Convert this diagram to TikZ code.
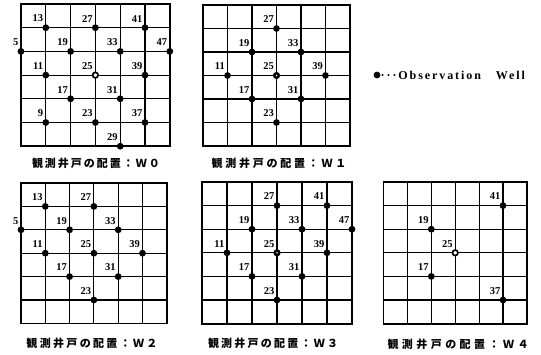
\documentclass[tikz,border=0pt]{standalone}
\usepackage{fontspec}
\setmainfont{Liberation Serif}
\newfontfamily\jpfont{Noto Sans CJK JP}
\newfontfamily\lgdfont[LetterSpace=16]{Liberation Serif}
\tikzset{
  gridline/.style={line width=1.1pt},
  border/.style={line width=1.8pt},
  well/.style={circle, fill=black, inner sep=0pt, minimum size=6.8pt},
  ringwell/.style={circle, draw=black, line width=1.7pt, fill=white, inner sep=0pt, minimum size=5.5pt},
  halfwell/.style={circle, draw=black, line width=2.5pt, fill=white, inner sep=0pt, minimum size=4.5pt},
  lbl/.style={font=\bfseries\fontsize{10.5}{11}\selectfont, inner sep=0pt, anchor=south east, xshift=-2.5pt, yshift=5.5pt},
  ttl/.style={font=\jpfont\bfseries\fontsize{11}{13}\selectfont, inner sep=0pt},
  lgd/.style={font=\lgdfont\bfseries\fontsize{12}{14}\selectfont, inner sep=0pt, anchor=west},
}
\newcommand\mygrid{%
  \foreach \i in {1,...,5} {\draw[gridline] (\i,0) -- (\i,6); \draw[gridline] (0,\i) -- (6,\i);}
  \draw[border] (0,0) rectangle (6,6);}
% well: panel, col, row, number, style
\newcommand\mywell[5]{%
  \node[#5] (#1-#4) at (#2,#3) {};
  \node[lbl] (#1-#4l) at (#2,#3) {#4};}
\newcommand\mytitle[5]{% name, x, y, width, digit
  \node[ttl] (#1) at (#2,#3) {\makebox[#4pt][s]{観\hfill 測\hfill 井\hfill 戸\hfill の\hfill 配\hfill 置\hfill ：\hfill Ｗ\hfill #5}};}
\begin{document}
\begin{tikzpicture}[x=1pt, y=-1pt]
\useasboundingbox (0,0) rectangle (541,354);
\fill[white] (0,0) rectangle (541,354);

% W0
\begin{scope}[shift={(21,4)}, x=24.8pt, y=-23.7pt]
  \mygrid
  \mywell{w0}{1}{1}{13}{well}
  \mywell{w0}{3}{1}{27}{well}
  \mywell{w0}{5}{1}{41}{well}
  \mywell{w0}{0}{2}{5}{well}
  \mywell{w0}{2}{2}{19}{well}
  \mywell{w0}{4}{2}{33}{well}
  \mywell{w0}{6}{2}{47}{well}
  \mywell{w0}{1}{3}{11}{well}
  \mywell{w0}{3}{3}{25}{ringwell}
  \mywell{w0}{5}{3}{39}{well}
  \mywell{w0}{2}{4}{17}{well}
  \mywell{w0}{4}{4}{31}{well}
  \mywell{w0}{1}{5}{9}{well}
  \mywell{w0}{3}{5}{23}{well}
  \mywell{w0}{5}{5}{37}{well}
  \mywell{w0}{4}{6}{29}{well}
\end{scope}

% W1
\begin{scope}[shift={(203,5)}, x=24.5pt, y=-23.5pt]
  \mygrid
  \mywell{w1}{3}{1}{27}{well}
  \mywell{w1}{2}{2}{19}{well}
  \mywell{w1}{4}{2}{33}{well}
  \mywell{w1}{1}{3}{11}{well}
  \mywell{w1}{3}{3}{25}{halfwell}
  \mywell{w1}{5}{3}{39}{well}
  \mywell{w1}{2}{4}{17}{well}
  \mywell{w1}{4}{4}{31}{well}
  \mywell{w1}{3}{5}{23}{well}
\end{scope}

% W2
\begin{scope}[shift={(21,183)}, x=24.3pt, y=-23.4pt]
  \mygrid
  \mywell{w2}{1}{1}{13}{well}
  \mywell{w2}{3}{1}{27}{well}
  \mywell{w2}{0}{2}{5}{well}
  \mywell{w2}{2}{2}{19}{well}
  \mywell{w2}{4}{2}{33}{well}
  \mywell{w2}{1}{3}{11}{well}
  \mywell{w2}{3}{3}{25}{well}
  \mywell{w2}{5}{3}{39}{well}
  \mywell{w2}{2}{4}{17}{well}
  \mywell{w2}{4}{4}{31}{well}
  \mywell{w2}{3}{5}{23}{well}
\end{scope}

% W3
\begin{scope}[shift={(202,182)}, x=25pt, y=-23.6pt]
  \mygrid
  \mywell{w3}{3}{1}{27}{well}
  \mywell{w3}{5}{1}{41}{well}
  \mywell{w3}{2}{2}{19}{well}
  \mywell{w3}{4}{2}{33}{well}
  \mywell{w3}{6}{2}{47}{well}
  \mywell{w3}{1}{3}{11}{well}
  \mywell{w3}{3}{3}{25}{halfwell}
  \mywell{w3}{5}{3}{39}{well}
  \mywell{w3}{2}{4}{17}{well}
  \mywell{w3}{4}{4}{31}{well}
  \mywell{w3}{3}{5}{23}{well}
\end{scope}

% W4
\begin{scope}[shift={(383.5,182)}, x=23.9pt, y=-23.6pt]
  \mygrid
  \mywell{w4}{5}{1}{41}{well}
  \mywell{w4}{2}{2}{19}{well}
  \mywell{w4}{3}{3}{25}{ringwell}
  \mywell{w4}{2}{4}{17}{well}
  \mywell{w4}{5}{5}{37}{well}
\end{scope}

% titles
\mytitle{t0}{96}{163}{128}{０}
\mytitle{t1}{279}{163}{135}{１}
\mytitle{t2}{92}{343}{131}{２}
\mytitle{t3}{273}{343}{130}{３}
\mytitle{t4}{458}{344}{141}{４}

% legend
\node[well] (lgdot) at (377,75) {};
\node[lgd] (lgdtext) at (380.5,75) {···Observation\hspace{15pt}Well};
\end{tikzpicture}
\end{document}
